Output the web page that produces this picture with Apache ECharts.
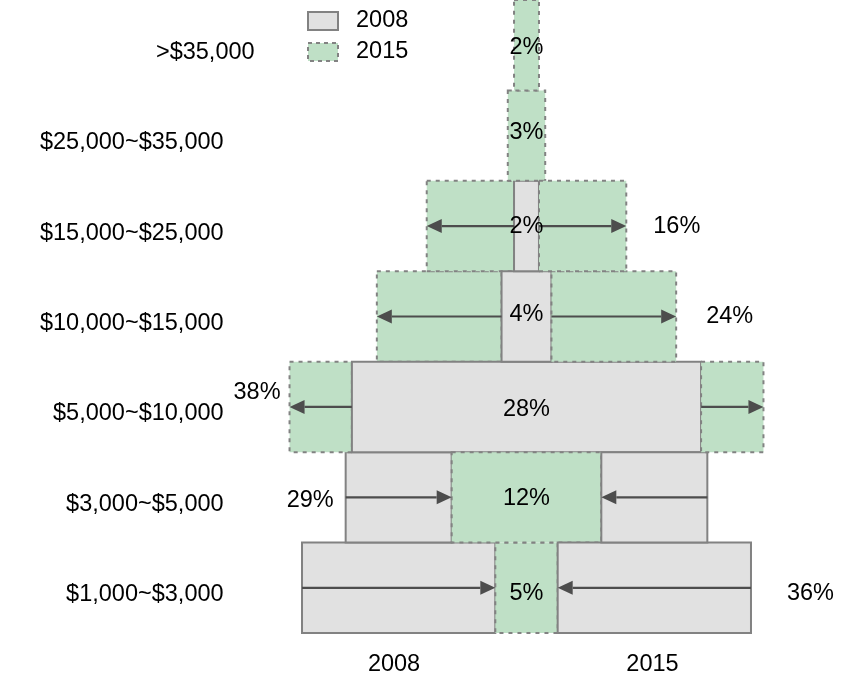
<!DOCTYPE html>
<html>
<head>
<meta charset="utf-8">
<script src="https://cdn.jsdelivr.net/npm/echarts@6/dist/echarts.min.js"></script>
<style>
html,body{margin:0;padding:0;background:#fff;}
#chart{width:847px;height:678px;}
</style>
</head>
<body>
<div id="chart"></div>
<script>
// ---- data ----
const categories = ['$1,000~$3,000', '$3,000~$5,000', '$5,000~$10,000', '$10,000~$15,000', '$15,000~$25,000', '$25,000~$35,000', '>$35,000'];
const values2008 = [36, 29, 28, 4, 2, 0, 0];
const values2015 = [5, 12, 38, 24, 16, 3, 2];
const xTickValues = [-10.5, 10.5];
const xTickLabels = ['2008', '2015'];

// ---- layout / style (not data) ----
const FONT = '"Liberation Sans", Arial, sans-serif';
const FS = 23.5;
const GREY_FILL = '#e1e1e1';
const GREEN_FILL = '#bfe0c6';
const BORDER = '#828282';
const ARROW = '#4d4d4d';
// which side the outer (larger) value label sits, pixel offset from bar edge, vertical shift
const outerSide = ['right', 'left', 'left', 'right', 'right', null, null];
const outerGap = [36, 12, 9, 30, 27, 0, 0];
const outerDy = [6, 3, -14, 0, 0, 0, 0];
const centerDy = [6, 1, 3, -2, 0, -3, 2];

function rowGeom(api, i) {
  const c = api.coord([0, i]);
  const h = api.size([0, 1])[1];
  return { cx: c[0], cy: c[1], h: h };
}
function px(api, v, i) { return api.coord([v, i])[0]; }

function makeYearRender(own, other, fill, dashed) {
  return function (params, api) {
    const i = api.value(0);
    const v = own[i];
    const o = other[i];
    if (!v) return;
    const g = rowGeom(api, i);
    const y = g.cy - g.h / 2;
    const style = {
      fill: fill, stroke: BORDER, lineWidth: 2,
      lineDash: dashed ? [4, 5] : null
    };
    const children = [];
    if (!o || v < o) {
      const x0 = px(api, -v / 2, i), x1 = px(api, v / 2, i);
      children.push({ type: 'rect', z2: 2, shape: { x: x0, y: y, width: x1 - x0, height: g.h }, style: style });
    } else {
      const a0 = px(api, -v / 2, i), a1 = px(api, -o / 2, i);
      const b0 = px(api, o / 2, i), b1 = px(api, v / 2, i);
      children.push({ type: 'rect', z2: 1, shape: { x: a0, y: y, width: a1 - a0, height: g.h }, style: style });
      children.push({ type: 'rect', z2: 3, shape: { x: b0, y: y, width: b1 - b0, height: g.h }, style: style });
    }
    return { type: 'group', children: children };
  };
}

function arrow(x0, x1, y) {
  const dir = x1 > x0 ? 1 : -1;
  const L = 15, W = 7;
  return [
    { type: 'line', z2: 10, shape: { x1: x0, y1: y, x2: x1 - dir * L, y2: y }, style: { stroke: ARROW, lineWidth: 2.2 } },
    { type: 'polygon', z2: 10, shape: { points: [[x1, y], [x1 - dir * L, y - W], [x1 - dir * L, y + W]] }, style: { fill: ARROW } }
  ];
}

function annotRender(params, api) {
  const i = api.value(0);
  const a = values2008[i], b = values2015[i];
  const g = rowGeom(api, i);
  const children = [];
  if (a > 0 && b > 0) {
    const la = px(api, -a / 2, i), lb = px(api, -b / 2, i);
    const ra = px(api, a / 2, i), rb = px(api, b / 2, i);
    children.push.apply(children, arrow(la, lb, g.cy));
    children.push.apply(children, arrow(ra, rb, g.cy));
  }
  let small, big;
  if (a > 0 && b > 0) { small = Math.min(a, b); big = Math.max(a, b); }
  else { small = a > 0 ? a : b; big = null; }
  children.push({
    type: 'text', z2: 20,
    style: { text: small + '%', x: g.cx, y: g.cy + centerDy[i], fill: '#000', font: FS + 'px ' + FONT, align: 'center', verticalAlign: 'middle' }
  });
  if (big !== null && outerSide[i]) {
    const right = outerSide[i] === 'right';
    const edge = px(api, (right ? 1 : -1) * big / 2, i);
    children.push({
      type: 'text', z2: 20,
      style: {
        text: big + '%', x: edge + (right ? outerGap[i] : -outerGap[i]), y: g.cy + outerDy[i],
        fill: '#000', font: FS + 'px ' + FONT, align: right ? 'left' : 'right', verticalAlign: 'middle'
      }
    });
  }
  return { type: 'group', children: children };
}

const chart = echarts.init(document.getElementById('chart'));
chart.setOption({
  animation: false,
  backgroundColor: '#fff',
  textStyle: { fontFamily: FONT },
  legend: {
    orient: 'vertical', left: 302, top: 4, itemWidth: 30, itemHeight: 18, itemGap: 7,
    textStyle: { fontSize: FS, color: '#000', fontFamily: FONT, padding: [0, 0, 0, 13] },
    selectedMode: false,
    data: [
      { name: '2008', icon: 'rect', itemStyle: { color: GREY_FILL, borderColor: BORDER, borderWidth: 2 } },
      { name: '2015', icon: 'rect', itemStyle: { color: GREEN_FILL, borderColor: BORDER, borderWidth: 2, borderType: [4, 4] } }
    ]
  },
  grid: { left: 264.6, right: 58.6, top: -9, bottom: 45, containLabel: false },
  xAxis: {
    type: 'value', min: -21, max: 21, interval: 10.5,
    axisLine: { show: false }, axisTick: { show: false }, splitLine: { show: false },
    axisLabel: {
      margin: 20, fontSize: FS, color: '#000', fontFamily: FONT,
      showMinLabel: false, showMaxLabel: false,
      formatter: function (v) {
        const k = xTickValues.indexOf(v);
        if (k < 0) return '';
        return '{t' + k + '|' + xTickLabels[k] + '}';
      },
      rich: {
        t0: { fontSize: FS, color: '#000', fontFamily: FONT, padding: [0, 3, 0, 0] },
        t1: { fontSize: FS, color: '#000', fontFamily: FONT, padding: [0, 10, 0, 0] }
      }
    }
  },
  yAxis: {
    type: 'category', data: categories,
    axisLine: { show: false }, axisTick: { show: false }, splitLine: { show: false },
    axisLabel: {
      margin: 10, fontSize: FS, color: '#000', fontFamily: FONT,
      formatter: function (v, idx) {
        return (idx === categories.length - 1 ? '{top|' : '{n|') + v + '}';
      },
      rich: {
        n: { fontSize: FS, color: '#000', fontFamily: FONT, padding: [14, 31, 0, 0] },
        top: { fontSize: FS, color: '#000', fontFamily: FONT, padding: [14, 0, 0, 0] }
      }
    }
  },
  series: [
    {
      name: '2008', type: 'custom', z: 2, clip: false,
      itemStyle: { color: GREY_FILL, borderColor: BORDER, borderWidth: 2 },
      encode: { y: 0, x: 1 },
      data: values2008.map(function (v, i) { return [i, v]; }),
      renderItem: makeYearRender(values2008, values2015, GREY_FILL, false)
    },
    {
      name: '2015', type: 'custom', z: 2, clip: false,
      itemStyle: { color: GREEN_FILL, borderColor: BORDER, borderWidth: 2, borderType: [4, 4] },
      encode: { y: 0, x: 1 },
      data: values2015.map(function (v, i) { return [i, v]; }),
      renderItem: makeYearRender(values2015, values2008, GREEN_FILL, true)
    },
    {
      name: 'annotations', type: 'custom', z: 5, clip: false, silent: true,
      encode: { y: 0, x: 1 },
      data: categories.map(function (c, i) { return [i, values2008[i], values2015[i]]; }),
      renderItem: annotRender
    }
  ]
});
</script>
</body>
</html>
